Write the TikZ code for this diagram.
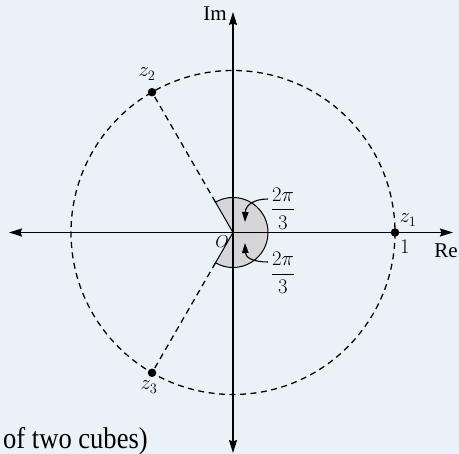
\documentclass[tikz,border=0pt]{standalone}
\usepackage{fontspec}
\setmainfont{Liberation Serif}
\usepackage{amsmath}
\usetikzlibrary{arrows.meta,calc}
\definecolor{bg}{RGB}{234,242,248}
\definecolor{sectorgray}{RGB}{214,214,216}
\tikzset{
  axis/.style={line width=1.7pt,{Stealth[length=13pt,width=8pt,inset=1.5pt]}-{Stealth[length=13pt,width=8pt,inset=1.5pt]}},
  dashcircle/.style={line width=1.3pt,dash pattern=on 6pt off 4.5pt},
  dashray/.style={line width=1.3pt,dash pattern=on 6pt off 4.5pt},
  sector/.style={fill=sectorgray,draw=black,line width=1pt},
  dot/.style={circle,fill=black,inner sep=0pt,minimum size=8.5pt},
  lbl/.style={inner sep=0pt,font=\fontsize{21}{24}\selectfont},
  fraclbl/.style={inner sep=0pt,font=\fontsize{20}{24}\selectfont},
  anglearrow/.style={line width=1.1pt,-{Triangle[length=10pt,width=6.5pt]}},
}
\begin{document}
\begin{tikzpicture}[x=1pt,y=-1pt]
\fill[bg] (0,0) rectangle (459,454);
\useasboundingbox (0,0) rectangle (459,454);
\coordinate (O) at (233,232.5);
\coordinate (xl) at (9,232.5);
\coordinate (xr) at (453,232.5);
\coordinate (yt) at (233,12);
\coordinate (yb) at (233,453);
% sector
\filldraw[sector] (O) -- ++(-120:35) arc[start angle=-120,end angle=120,radius=35] -- cycle;
% circle
\draw[dashcircle] (O) circle[radius=162];
% points
\node[dot] (z1) at ($(O)+(0:162)$) {};
\node[dot] (z2) at ($(O)+(-120:162)$) {};
\node[dot] (z3) at ($(O)+(120:162)$) {};
\draw[dashray] ($(O)+(-120:35)$) -- (z2.center);
\draw[dashray] ($(O)+(120:35)$) -- (z3.center);
% axes
\draw[axis] (xl) -- (xr);
\draw[axis] (yb) -- (yt);
% labels
\node[lbl,font=\fontsize{21}{24}\selectfont] (im) at (215,14) {Im};
\node[lbl,font=\fontsize{21}{24}\selectfont] (re) at (446,251) {Re};
\node[lbl] (lz1) at (408,220) {$z_1$};
\node[lbl] (lone) at (405,247) {$1$};
\node[lbl,font=\fontsize{16}{19}\selectfont] (lO) at (222,241.5) {$O$};
\node[lbl] (lz2) at (147,74) {$z_2$};
\node[lbl] (lz3) at (149,387) {$z_3$};
\node[fraclbl] (f1) at (283,208.5) {$\dfrac{2\pi}{3}$};
\node[fraclbl] (f2) at (283,273) {$\dfrac{2\pi}{3}$};
% angle arrows
\coordinate (s1) at (268,199);
\coordinate (t1) at (245,222);
\coordinate (s2) at (268,262);
\coordinate (t2) at (245,243);
\draw[anglearrow] (s1) .. controls (254,199) and (245.5,205) .. (t1);
\draw[anglearrow] (s2) .. controls (254,262) and (245.5,258) .. (t2);
% caption fragment
\node[inner sep=0pt,anchor=base west,font=\fontsize{30}{34}\selectfont] (cap) at (3,448.5) {\scalebox{0.885}[1]{of two cubes)}};
\end{tikzpicture}
\end{document}
